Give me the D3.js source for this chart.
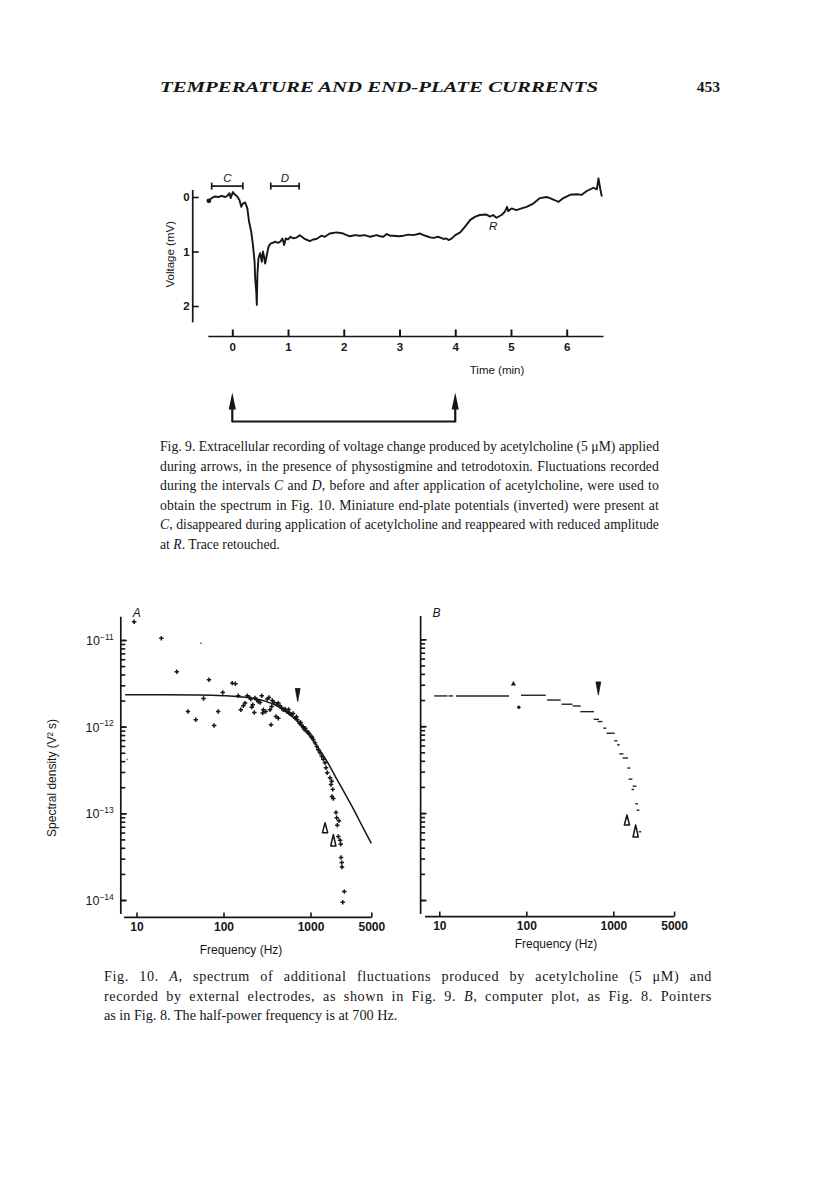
<!DOCTYPE html>
<html>
<head>
<meta charset="utf-8">
<script src="https://cdn.jsdelivr.net/npm/d3@7"></script>
<style>
  html, body { margin: 0; padding: 0; background: #fff; }
  svg { display: block; }
</style>
</head>
<body>
<div id="page"></div>
<script>
// ---------- Fig. 9: voltage trace, [time (min), voltage (mV)], 0 at top ----------
const trace9 = [
  [-0.42, 0.07], [-0.37, 0.02], [-0.31, -0.01], [-0.25, 0.0], [-0.19, -0.02], [-0.13, 0.0],
  [-0.09, -0.02], [-0.05, -0.07], [-0.03, 0.02], [0.01, -0.09], [0.05, -0.04], [0.09, -0.01],
  [0.13, 0.06], [0.16, 0.18], [0.19, 0.12], [0.23, 0.10], [0.27, 0.21], [0.30, 0.45],
  [0.34, 0.64], [0.37, 0.88], [0.40, 1.19], [0.41, 1.49], [0.43, 1.74], [0.44, 1.98],
  [0.45, 1.43], [0.47, 1.12], [0.50, 1.03], [0.53, 1.19], [0.55, 1.0], [0.57, 1.10],
  [0.59, 1.22], [0.62, 1.06], [0.65, 0.91], [0.69, 0.85], [0.73, 0.84], [0.77, 0.82],
  [0.82, 0.84], [0.86, 0.82], [0.90, 0.76], [0.93, 0.88], [0.96, 0.76], [1.00, 0.78],
  [1.04, 0.73], [1.10, 0.76], [1.16, 0.74], [1.21, 0.70], [1.26, 0.74], [1.30, 0.77],
  [1.39, 0.81], [1.45, 0.78], [1.51, 0.77], [1.60, 0.71], [1.66, 0.73], [1.75, 0.67],
  [1.87, 0.65], [1.99, 0.67], [2.05, 0.70], [2.11, 0.72], [2.20, 0.70], [2.29, 0.71],
  [2.38, 0.70], [2.47, 0.73], [2.59, 0.70], [2.65, 0.72], [2.71, 0.73], [2.77, 0.68],
  [2.83, 0.71], [2.89, 0.71], [2.98, 0.72], [3.07, 0.71], [3.16, 0.69], [3.25, 0.70],
  [3.37, 0.67], [3.43, 0.70], [3.49, 0.72], [3.55, 0.74], [3.61, 0.75], [3.70, 0.73],
  [3.79, 0.77], [3.84, 0.76], [3.88, 0.79], [3.94, 0.76], [4.00, 0.70], [4.09, 0.65],
  [4.18, 0.54], [4.27, 0.42], [4.36, 0.36], [4.44, 0.33], [4.56, 0.32], [4.62, 0.36],
  [4.68, 0.33], [4.74, 0.38], [4.83, 0.33], [4.89, 0.27], [4.93, 0.18], [4.95, 0.26],
  [5.01, 0.21], [5.10, 0.24], [5.19, 0.21], [5.28, 0.18], [5.40, 0.12], [5.52, 0.02],
  [5.64, 0.0], [5.70, 0.02], [5.79, 0.06], [5.85, 0.09], [5.94, 0.02], [6.06, -0.04],
  [6.18, -0.05], [6.27, -0.04], [6.36, -0.11], [6.48, -0.17], [6.54, -0.14], [6.57, -0.34],
  [6.60, -0.16], [6.63, -0.01]
];
const timeTicks = [0, 1, 2, 3, 4, 5, 6];
const voltTicks = [0, 1, 2];
const intervals9 = [
  { label: "C", t0: -0.37, t1: 0.19 },
  { label: "D", t0: 0.69, t1: 1.2 }
];
const arrowTimes = [0, 4];

// ---------- Fig. 10 A: spectrum points, [frequency (Hz), density (V² s)] ----------
const pointsA = [
  [9.4, 1.62e-11], [19.3, 1.05e-11], [29, 4.3e-12], [39, 1.5e-12], [48, 1.2e-12], [59, 2.11e-12],
  [68, 3.47e-12], [78, 1.03e-12], [87, 1.5e-12], [98, 2.48e-12], [126, 3.18e-12], [137, 3.12e-12],
  [148, 2.27e-12], [158, 1.57e-12], [169, 1.74e-12], [177, 1.87e-12], [188, 2.27e-12], [198, 2.19e-12],
  [206, 2.08e-12], [211, 1.68e-12], [217, 1.79e-12], [226, 1.46e-12], [230, 2.14e-12], [241, 2.04e-12],
  [251, 1.95e-12], [263, 1.9e-12], [275, 2.27e-12], [282, 1.44e-12], [287, 1.57e-12], [305, 1.5e-12],
  [319, 2.08e-12], [333, 2.17e-12], [342, 1.57e-12], [352, 1.05e-12], [358, 1.71e-12], [364, 2.0e-12],
  [380, 1.9e-12], [401, 1.31e-12], [409, 1.82e-12], [426, 1.87e-12], [426, 1.25e-12], [446, 1.74e-12],
  [466, 1.64e-12], [487, 1.57e-12], [510, 1.6e-12], [532, 1.5e-12], [560, 1.58e-12], [570, 1.44e-12],
  [590, 1.4e-12], [608, 1.37e-12], [630, 1.42e-12], [664, 1.26e-12], [690, 1.3e-12], [705, 1.2e-12],
  [744, 1.1e-12], [770, 1.12e-12], [793, 1.03e-12], [820, 1.0e-12], [842, 9.4e-13], [870, 9.6e-13],
  [904, 8.8e-13], [940, 8.6e-13], [968, 8.3e-13], [1014, 7.7e-13], [1040, 7.6e-13], [1077, 7.1e-13],
  [1127, 6.5e-13], [1178, 5.9e-13], [1230, 5.4e-13], [1286, 5.0e-13], [1345, 4.56e-13], [1403, 4.2e-13],
  [1469, 3.83e-13], [1507, 3.35e-13], [1560, 2.94e-13], [1675, 2.57e-13], [1753, 2.35e-13], [1720, 2.15e-13],
  [1800, 1.89e-13], [1767, 1.56e-13], [1828, 1.48e-13], [1963, 1.02e-13], [2000, 8.9e-14], [2127, 8.2e-14],
  [2033, 7.3e-14], [2088, 5.4e-14], [2185, 4.9e-14], [2224, 4.4e-14], [2243, 3.1e-14], [2285, 2.7e-14],
  [2300, 2.4e-14], [2447, 1.25e-14], [2345, 9.4e-15]
];
const faintA = [[55, 9.2e-12], [7.8, 4.2e-13]];
// fitted curve
const fitA = [
  [7.4, 2.33e-12], [20, 2.33e-12], [50, 2.32e-12], [100, 2.28e-12], [200, 2.15e-12], [300, 1.97e-12],
  [400, 1.76e-12], [500, 1.54e-12], [600, 1.34e-12], [700, 1.17e-12], [800, 1.01e-12], [1000, 7.7e-13],
  [1200, 5.9e-13], [1500, 4.2e-13], [2000, 2.5e-13], [3000, 1.2e-13], [4000, 6.9e-14], [5000, 4.5e-14]
];
const halfPowerA = [713, 1.95e-12];                      // tip of the filled pointer
const pointersA = [[1470, 7.8e-14], [1830, 5.7e-14]];    // tips of the open pointers

// ---------- Fig. 10 B: computer plot bins, [f from, f to, density] ----------
const binsB = [
  [8.9, 12.2, 2.23e-12], [13.0, 14.1, 2.23e-12], [15.8, 62.1, 2.23e-12], [88.5, 164, 2.27e-12],
  [176, 244, 2.0e-12], [259, 333, 1.79e-12], [347, 414, 1.71e-12], [425, 589, 1.47e-12],
  [605, 673, 1.2e-12], [673, 736, 1.13e-12], [782, 818, 9.5e-13], [853, 1019, 8.3e-13],
  [1047, 1094, 6.8e-13], [1125, 1164, 6.1e-13], [1195, 1283, 4.8e-13], [1303, 1449, 4.3e-13],
  [1476, 1535, 3.3e-13], [1528, 1626, 2.46e-13], [1698, 1808, 2.04e-13], [1653, 1698, 1.87e-13],
  [1824, 1888, 1.28e-13], [1888, 1959, 1.08e-13], [2000, 2056, 6.1e-14]
];
const upMarkB = [71, 3.06e-12];
const dotB = [82, 1.65e-12];
const halfPowerB = [673, 2.29e-12];
const pointersB = [[1435, 9.5e-14], [1807, 7.3e-14]];

const freqTicks = [10, 100, 1000, 5000];
const densityExponents = [-11, -12, -13, -14];

// ---------- captions (words between * are italic) ----------
const caption9 = [
  "Fig. 9. Extracellular recording of voltage change produced by acetylcholine (5 μM) applied",
  "during arrows, in the presence of physostigmine and tetrodotoxin. Fluctuations recorded",
  "during the intervals *C* and *D*, before and after application of acetylcholine, were used to",
  "obtain the spectrum in Fig. 10. Miniature end-plate potentials (inverted) were present at",
  "*C*, disappeared during application of acetylcholine and reappeared with reduced amplitude",
  "at *R*. Trace retouched."
];
const caption10 = [
  "Fig. 10. *A*, spectrum of additional fluctuations produced by acetylcholine (5 μM) and",
  "recorded by external electrodes, as shown in Fig. 9. *B*, computer plot, as Fig. 8. Pointers",
  "as in Fig. 8. The half-power frequency is at 700 Hz."
];

const W = 816, H = 1183;
const ink = "#161616";
const sans = "'Liberation Sans', Arial, Helvetica, sans-serif";
const serif = "'Liberation Serif', 'Times New Roman', serif";

const svg = d3.select("#page").append("svg").attr("width", W).attr("height", H);
svg.append("rect").attr("width", W).attr("height", H).attr("fill", "#fff");

// running head
svg.append("text")
  .attr("x", 160).attr("y", 92)
  .attr("font-family", serif).attr("font-style", "italic").attr("font-weight", "bold")
  .attr("font-size", 15.5).attr("fill", ink)
  .attr("textLength", 438).attr("lengthAdjust", "spacingAndGlyphs")
  .text("TEMPERATURE AND END-PLATE CURRENTS");
svg.append("text")
  .attr("x", 720).attr("y", 92).attr("text-anchor", "end")
  .attr("font-family", serif).attr("font-weight", "bold").attr("font-size", 15.5).attr("fill", ink)
  .text("453");

// style an axis group the same way every time
function styleAxis(g, size, weight) {
  g.attr("color", ink)
    .attr("font-family", sans)
    .attr("font-size", size)
    .attr("font-weight", weight || "normal");
  g.selectAll(".tick line").attr("stroke-width", 1.6);
  g.select(".domain").remove();
}

// ================= Fig. 9 =================
const x9 = d3.scaleLinear().domain([0, 6]).range([232.3, 566.7]);
const y9 = d3.scaleLinear().domain([0, 2]).range([197, 306]);
const xAxisY9 = 336.5;
const yAxisX9 = x9(-0.71);

const g9 = svg.append("g");

// x axis
g9.append("line")
  .attr("x1", x9(-0.43)).attr("x2", x9(6.66))
  .attr("y1", xAxisY9).attr("y2", xAxisY9)
  .attr("stroke", ink).attr("stroke-width", 1.7);
g9.append("g")
  .attr("transform", "translate(0," + xAxisY9 + ")")
  .call(d3.axisBottom(x9).tickValues(timeTicks).tickSize(-7).tickPadding(6).tickFormat(d3.format("d")))
  .call(g => styleAxis(g, 11.5, "bold"))
  .call(g => g.selectAll(".tick line").attr("stroke-width", 2));

g9.append("text")
  .attr("x", 497).attr("y", 374).attr("text-anchor", "middle")
  .attr("font-family", sans).attr("font-size", 11.5).attr("fill", ink)
  .text("Time (min)");

// y axis
g9.append("line")
  .attr("x1", yAxisX9).attr("x2", yAxisX9)
  .attr("y1", y9(-0.13)).attr("y2", y9(2.3))
  .attr("stroke", ink).attr("stroke-width", 1.7);
g9.append("g")
  .attr("transform", "translate(" + yAxisX9 + ",0)")
  .call(d3.axisLeft(y9).tickValues(voltTicks).tickSize(-6).tickPadding(3).tickFormat(d3.format("d")))
  .call(g => styleAxis(g, 11.5, "bold"));

g9.append("text")
  .attr("transform", "translate(174," + y9(1.05) + ") rotate(-90)")
  .attr("text-anchor", "middle")
  .attr("font-family", sans).attr("font-size", 11.5).attr("fill", ink)
  .text("Voltage (mV)");

// the trace
g9.append("path")
  .datum(trace9)
  .attr("fill", "none").attr("stroke", ink).attr("stroke-width", 1.9)
  .attr("stroke-linejoin", "round")
  .attr("d", d3.line().x(d => x9(d[0])).y(d => y9(d[1])));
g9.append("circle")
  .attr("cx", x9(trace9[0][0])).attr("cy", y9(trace9[0][1])).attr("r", 2.4).attr("fill", ink);

// C and D intervals
const iv = g9.selectAll(".interval").data(intervals9).enter().append("g").attr("class", "interval");
iv.append("line")
  .attr("x1", d => x9(d.t0)).attr("x2", d => x9(d.t1))
  .attr("y1", y9(-0.2)).attr("y2", y9(-0.2))
  .attr("stroke", ink).attr("stroke-width", 1.7);
iv.selectAll(".cap").data(d => [d.t0, d.t1]).enter().append("line")
  .attr("x1", d => x9(d)).attr("x2", d => x9(d))
  .attr("y1", y9(-0.2) - 3.5).attr("y2", y9(-0.2) + 3.5)
  .attr("stroke", ink).attr("stroke-width", 1.7);
iv.append("text")
  .attr("x", d => x9((d.t0 + d.t1) / 2)).attr("y", y9(-0.2) - 4)
  .attr("text-anchor", "middle")
  .attr("font-family", sans).attr("font-style", "italic").attr("font-size", 11.5).attr("fill", ink)
  .text(d => d.label);

g9.append("text")
  .attr("x", x9(4.68)).attr("y", y9(0.6)).attr("text-anchor", "middle")
  .attr("font-family", sans).attr("font-style", "italic").attr("font-size", 11.5).attr("fill", ink)
  .text("R");

// application arrows
const arrowTip = 392.5, arrowBase = 421.5;
g9.append("line")
  .attr("x1", x9(arrowTimes[0])).attr("x2", x9(arrowTimes[1]))
  .attr("y1", arrowBase).attr("y2", arrowBase)
  .attr("stroke", ink).attr("stroke-width", 1.8);
arrowTimes.forEach(t => {
  const x = x9(t);
  g9.append("line")
    .attr("x1", x).attr("x2", x).attr("y1", arrowTip + 12).attr("y2", arrowBase + 0.9)
    .attr("stroke", ink).attr("stroke-width", 2.2);
  g9.append("path")
    .attr("d", "M" + x + "," + arrowTip + " L" + (x + 3.6) + "," + (arrowTip + 17) +
      " L" + (x - 3.6) + "," + (arrowTip + 17) + " Z")
    .attr("fill", ink);
});

// ================= Fig. 10 =================
const xA = d3.scaleLog().domain([10, 1000]).range([136.5, 310.5]);
const yA = d3.scaleLog().domain([1e-14, 1e-11]).range([900, 640]);
const xB = d3.scaleLog().domain([10, 1000]).range([439.3, 613.3]);
const yB = d3.scaleLog().domain([1e-14, 1e-11]).range([900, 639.3]);

const minorTicks = yA.ticks();   // 1..9 x each decade

function logPanel(xs, ys, opts) {
  const g = svg.append("g");
  const axX = xs(opts.yAxisAt);
  const axY = ys(opts.xAxisAt);
  g.append("line")
    .attr("x1", axX).attr("x2", axX).attr("y1", ys(1.85e-11)).attr("y2", ys(6.9e-15))
    .attr("stroke", ink).attr("stroke-width", 1.7);
  g.append("line")
    .attr("x1", xs(opts.xStart)).attr("x2", xs(5000)).attr("y1", axY).attr("y2", axY)
    .attr("stroke", ink).attr("stroke-width", 1.7);
  // minor and major ticks point into the plot
  g.append("g").attr("transform", "translate(" + axX + ",0)")
    .call(d3.axisLeft(ys).tickValues(minorTicks).tickSize(-4.5).tickFormat(""))
    .call(s => styleAxis(s, 11));
  const major = g.append("g").attr("transform", "translate(" + axX + ",0)")
    .call(d3.axisLeft(ys).tickValues(densityExponents.map(e => Math.pow(10, e))).tickSize(-6).tickFormat(""))
    .call(s => styleAxis(s, 11));
  if (opts.labels) {
    major.selectAll(".tick").append("text")
      .attr("x", -7).attr("y", 4.5).attr("text-anchor", "end")
      .attr("fill", ink).attr("font-size", 12.5)
      .each(function (d) {
        const t = d3.select(this);
        t.append("tspan").text("10");
        t.append("tspan").attr("dy", -5.5).attr("font-size", 8.5).text("−" + Math.round(-Math.log10(d)));
      });
  }
  g.append("g").attr("transform", "translate(0," + axY + ")")
    .call(d3.axisBottom(xs).tickValues(freqTicks).tickSize(-5).tickPadding(5).tickFormat(d3.format("d")))
    .call(s => styleAxis(s, 12, "bold"));
  g.append("text")
    .attr("x", opts.titleX).attr("y", opts.titleY).attr("text-anchor", "middle")
    .attr("font-family", sans).attr("font-size", 12).attr("fill", ink)
    .text("Frequency (Hz)");
  g.append("text")
    .attr("x", axX + 12).attr("y", 617)
    .attr("font-family", sans).attr("font-style", "italic").attr("font-size", 12).attr("fill", ink)
    .text(opts.letter);
  return g;
}

function downPointer(g, x, y) {
  g.append("path")
    .attr("d", "M" + x + "," + y + " L" + (x - 2.4) + "," + (y - 13) + " L" + (x + 2.4) + "," + (y - 13) + " Z")
    .attr("fill", ink).attr("stroke", ink).attr("stroke-width", 0.8);
}
function upPointer(g, x, y, h) {
  g.append("path")
    .attr("d", "M" + x + "," + y + " L" + (x + 2.6) + "," + (y + h) + " L" + (x - 2.6) + "," + (y + h) + " Z")
    .attr("fill", "#fff").attr("stroke", ink).attr("stroke-width", 1.5).attr("stroke-linejoin", "round");
}

// ---- panel A ----
const gA = logPanel(xA, yA, { yAxisAt: 6.6, xAxisAt: 6.3e-15, xStart: 7.2, labels: true,
  titleX: 241, titleY: 954, letter: "A" });

gA.append("text")
  .attr("transform", "translate(56," + yA(2.56e-13) + ") rotate(-90)")
  .attr("text-anchor", "middle")
  .attr("font-family", sans).attr("font-size", 12).attr("fill", ink)
  .text("Spectral density (V² s)");

gA.append("path")
  .datum(fitA)
  .attr("fill", "none").attr("stroke", ink).attr("stroke-width", 1.5)
  .attr("d", d3.line().curve(d3.curveMonotoneX).x(d => xA(d[0])).y(d => yA(d[1])));

gA.selectAll(".pt").data(pointsA).enter().append("path")
  .attr("class", "pt")
  .attr("transform", d => "translate(" + xA(d[0]) + "," + yA(d[1]) + ")")
  .attr("d", d3.symbol().type(d3.symbolCross).size(11))
  .attr("fill", ink);
gA.selectAll(".faint").data(faintA).enter().append("circle")
  .attr("cx", d => xA(d[0])).attr("cy", d => yA(d[1])).attr("r", 0.9)
  .attr("fill", "#777");

downPointer(gA, xA(halfPowerA[0]), yA(halfPowerA[1]));
pointersA.forEach((p, i) => upPointer(gA, xA(p[0]), yA(p[1]), i === 0 ? 10 : 11.5));

// ---- panel B ----
const gB = logPanel(xB, yB, { yAxisAt: 6.1, xAxisAt: 6.45e-15, xStart: 6.85, labels: false,
  titleX: 556, titleY: 948, letter: "B" });

gB.selectAll(".bin").data(binsB).enter().append("line")
  .attr("class", "bin")
  .attr("x1", d => xB(d[0])).attr("x2", d => xB(d[1]))
  .attr("y1", d => yB(d[2])).attr("y2", d => yB(d[2]))
  .attr("stroke", "#222").attr("stroke-width", 1.4).attr("stroke-linecap", "square");

gB.append("path")
  .attr("transform", "translate(" + xB(upMarkB[0]) + "," + yB(upMarkB[1]) + ")")
  .attr("d", d3.symbol().type(d3.symbolTriangle).size(11))
  .attr("fill", ink);
gB.append("circle")
  .attr("cx", xB(dotB[0])).attr("cy", yB(dotB[1])).attr("r", 1.7).attr("fill", ink);

downPointer(gB, xB(halfPowerB[0]), yB(halfPowerB[1]));
pointersB.forEach((p, i) => upPointer(gB, xB(p[0]), yB(p[1]), i === 0 ? 10 : 12));

// ================= captions =================
// justified lines: part of the slack goes to letter spacing, the rest to word spaces
function caption(lines, x, y0, width, size) {
  lines.forEach((line, i) => {
    const t = svg.append("text")
      .attr("x", x).attr("y", y0 + i * 19.5)
      .attr("font-family", serif).attr("font-size", size).attr("fill", ink);
    line.split("*").forEach((part, k) => {
      const s = t.append("tspan").text(part);
      if (k % 2 === 1) s.attr("font-style", "italic");
    });
    if (i < lines.length - 1) {
      const natural = t.node().getComputedTextLength();
      const plain = line.replace(/\*/g, "");
      const gaps = plain.split(" ").length - 1;
      const extra = width - natural;
      const ls = Math.max(-0.25, Math.min(0.6, extra * 0.5 / plain.length));
      const ws = (extra - ls * plain.length) / gaps;
      t.attr("letter-spacing", ls.toFixed(3)).attr("word-spacing", ws.toFixed(2));
    }
  });
}
caption(caption9, 160, 451, 499, 13.7);
caption(caption10, 104, 981, 608, 14.2);
</script>
</body>
</html>
